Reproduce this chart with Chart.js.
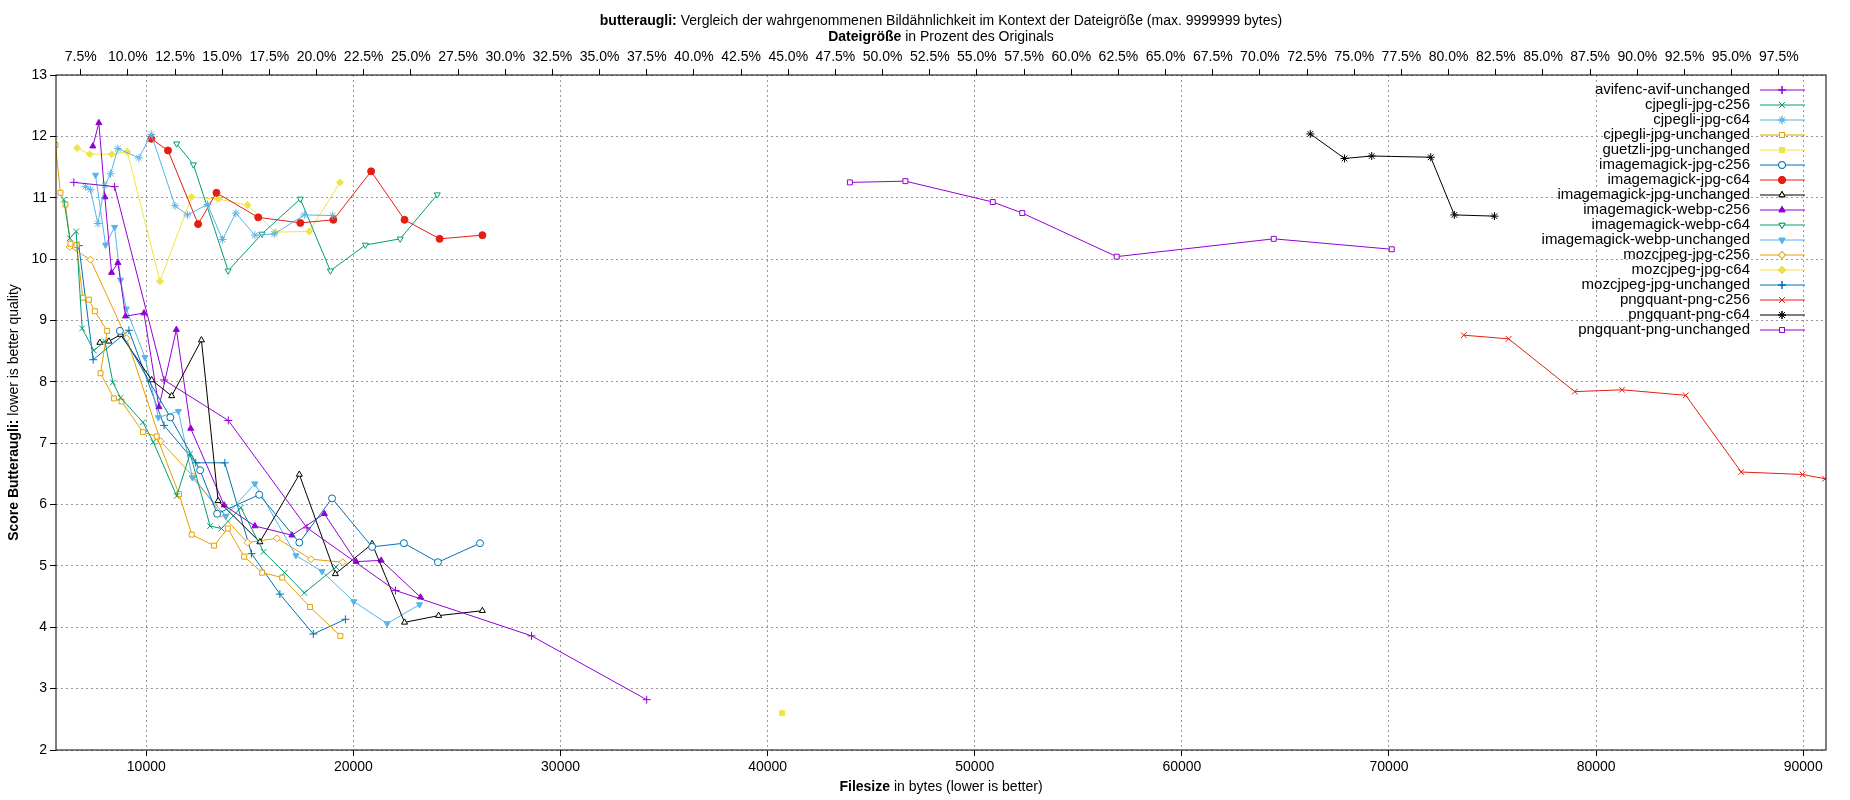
<!DOCTYPE html>
<html>
<head>
<meta charset="utf-8">
<script src="https://cdn.jsdelivr.net/npm/chart.js@4/dist/chart.umd.min.js"></script>
<style>
  body { margin: 0; background: #fff; }
  #box { width: 1850px; height: 800px; }
</style>
</head>
<body>
<div id="box"><canvas id="chart"></canvas></div>
<script>
// Datos: [bytes, score]
const avifUnchanged = [[6500,11.25],[8470,11.18],[10855,8.03],[13960,7.37],[17760,5.62],[22030,4.60],[28600,3.86],[34160,2.82]];
const cjpegliC256 = [[6016,10.97],[6306,10.34],[6613,10.45],[6903,8.87],[7468,8.51],[8000,8.66],[8387,7.99],[8758,7.74],[9839,7.34],[10339,7.02],[11468,6.14],[12113,6.83],[13081,5.65],[13629,5.61],[14565,5.95],[15661,5.23],[16677,4.89],[17629,4.56],[19161,4.98]];
const cjpegliC64 = [[7064,11.18],[7306,11.13],[7661,10.58],[8000,11.20],[8274,11.39],[8629,11.80],[9645,11.65],[10242,12.03],[11387,10.87],[11984,10.72],[12952,10.89],[13678,10.32],[14323,10.75],[15242,10.39],[16178,10.41],[17629,10.72],[19000,10.71]];
const cjpegliUnchanged = [[5613,11.86],[5855,11.08],[6097,10.89],[6339,10.25],[6629,10.23],[6935,9.37],[7226,9.34],[7516,9.15],[8113,8.83],[7790,8.14],[8435,7.73],[8806,7.68],[9839,7.18],[10500,7.11],[11581,6.17],[12194,5.51],[13274,5.33],[13935,5.61],[14725,5.15],[15596,4.89],[16564,4.81],[17903,4.33],[19371,3.86]];
const guetzliUnchanged = [[40700,2.60]];
const imJpgC256 = [[8726,8.83],[11161,7.42],[12597,6.56],[13419,5.85],[15452,6.16],[17388,5.38],[18968,6.10],[20903,5.31],[22436,5.37],[24081,5.06],[26113,5.37]];
const imJpgC64 = [[10242,11.96],[11048,11.77],[12500,10.57],[13387,11.08],[15404,10.68],[17436,10.59],[19032,10.64],[20855,11.43],[22468,10.64],[24161,10.33],[26226,10.39]];
const imJpgUnchanged = [[7758,8.64],[8193,8.66],[8758,8.77],[10258,8.03],[11226,7.77],[12662,8.68],[13468,6.06],[15484,5.39],[17388,6.49],[19129,4.87],[20903,5.36],[22468,4.08],[24113,4.19],[26226,4.27]];
const imWebpC256 = [[7419,11.84],[7710,12.22],[8000,11.01],[8322,9.78],[8629,9.94],[9000,9.07],[9887,9.12],[10613,7.59],[11452,8.85],[12145,7.24],[13758,5.99],[15242,5.65],[17033,5.50],[18597,5.85],[20129,5.07],[21339,5.09],[23242,4.49]];
const imWebpC64 = [[11468,11.88],[12274,11.54],[13952,9.81],[15581,10.41],[17436,10.98],[18887,9.81],[20581,10.23],[22258,10.33],[24048,11.05]];
const imWebpUnchanged = [[7548,11.37],[8032,10.23],[8468,10.52],[8758,9.66],[9032,9.19],[9935,8.40],[10581,7.42],[11548,7.52],[12226,6.44],[13839,5.81],[15242,6.34],[17226,5.17],[18484,4.91],[20016,4.42],[21629,4.06],[23194,4.37]];
const mozC256 = [[6300,10.20],[7306,9.99],[9048,8.71],[10694,7.03],[12258,6.46],[13600,5.85],[14888,5.38],[16306,5.45],[17952,5.11],[19484,5.06]];
const mozC64 = [[6661,11.81],[7274,11.71],[8339,11.71],[9081,11.75],[10661,9.64],[12177,11.01],[13468,10.98],[14887,10.88],[16226,10.44],[17871,10.45],[19355,11.25]];
const mozUnchanged = [[6742,10.22],[7435,8.36],[9161,8.84],[10855,7.29],[12387,6.68],[13790,6.68],[15081,5.20],[16451,4.54],[18064,3.89],[19613,4.13]];
const pngC256 = [[73612,8.76],[75778,8.70],[78970,7.84],[81250,7.87],[84328,7.78],[87007,6.53],[89971,6.49],[91054,6.42]];
const pngC64 = [[66200,12.04],[67855,11.64],[69166,11.68],[72016,11.66],[73156,10.72],[75094,10.70]];
const pngUnchanged = [[43972,11.25],[46651,11.27],[50869,10.93],[52294,10.75],[56854,10.04],[64435,10.33],[70135,10.16]];

const originalSize = 91100; // Tamaño del original (100% del eje superior)
const xMin = 5640, xMax = 91100;
const topTicks = [7.5,10,12.5,15,17.5,20,22.5,25,27.5,30,32.5,35,37.5,40,42.5,45,47.5,50,52.5,55,57.5,60,62.5,65,67.5,70,72.5,75,77.5,80,82.5,85,87.5,90,92.5,95,97.5];

const FONT = 'Liberation Sans, Arial, sans-serif';

function serie(label, data, color, style, filled, rot) {
    return {
        label: label,
        data: data.map(p => ({x: p[0], y: p[1]})),
        borderColor: color,
        backgroundColor: filled ? color : '#ffffff',
        pointStyle: style,
        pointRotation: rot || 0,
        pointRadius: style === 'star' || style === 'cross' || style === 'crossRot' ? 4 : 3.5,
        pointBorderWidth: 1,
        borderWidth: 1,
        showLine: true,
        tension: 0
    };
}

const datasets = [
    serie('avifenc-avif-unchanged', avifUnchanged, '#9400d3', 'cross', false),
    serie('cjpegli-jpg-c256', cjpegliC256, '#009e73', 'crossRot', false),
    serie('cjpegli-jpg-c64', cjpegliC64, '#56b4e9', 'star', false),
    serie('cjpegli-jpg-unchanged', cjpegliUnchanged, '#e69f00', 'rect', false),
    serie('guetzli-jpg-unchanged', guetzliUnchanged, '#f0e442', 'rect', true),
    serie('imagemagick-jpg-c256', imJpgC256, '#0072b2', 'circle', false),
    serie('imagemagick-jpg-c64', imJpgC64, '#e51e10', 'circle', true),
    serie('imagemagick-jpg-unchanged', imJpgUnchanged, '#000000', 'triangle', false),
    serie('imagemagick-webp-c256', imWebpC256, '#9400d3', 'triangle', true),
    serie('imagemagick-webp-c64', imWebpC64, '#009e73', 'triangle', false, 180),
    serie('imagemagick-webp-unchanged', imWebpUnchanged, '#56b4e9', 'triangle', true, 180),
    serie('mozcjpeg-jpg-c256', mozC256, '#e69f00', 'rectRot', false),
    serie('mozcjpeg-jpg-c64', mozC64, '#f0e442', 'rectRot', true),
    serie('mozcjpeg-jpg-unchanged', mozUnchanged, '#0072b2', 'cross', false),
    serie('pngquant-png-c256', pngC256, '#e51e10', 'crossRot', false),
    serie('pngquant-png-c64', pngC64, '#000000', 'star', false),
    serie('pngquant-png-unchanged', pngUnchanged, '#9400d3', 'rect', false)
];

// Texto con partes en negrita
function mixedText(ctx, parts, x, y, align) {
    const widths = parts.map(p => { ctx.font = (p[1] ? 'bold ' : '') + '14px ' + FONT; return ctx.measureText(p[0]).width; });
    const total = widths.reduce((a, b) => a + b, 0);
    let cx = align === 'center' ? x - total / 2 : x;
    ctx.textAlign = 'left';
    parts.forEach((p, i) => {
        ctx.font = (p[1] ? 'bold ' : '') + '14px ' + FONT;
        ctx.fillText(p[0], cx, y);
        cx += widths[i];
    });
}

const decoracion = {
    id: 'decoracion',
    afterDraw(chart) {
        const ctx = chart.ctx;
        const a = chart.chartArea;
        ctx.save();
        ctx.fillStyle = '#000';
        ctx.textBaseline = 'middle';
        const cx = (a.left + a.right) / 2;
        mixedText(ctx, [['butteraugli:', true], [' Vergleich der wahrgenommenen Bildähnlichkeit im Kontext der Dateigröße (max. 9999999 bytes)', false]], cx, 21, 'center');
        mixedText(ctx, [['Dateigröße', true], [' in Prozent des Originals', false]], cx, 37, 'center');
        mixedText(ctx, [['Filesize', true], [' in bytes (lower is better)', false]], cx, 787, 'center');
        ctx.translate(14, (a.top + a.bottom) / 2);
        ctx.rotate(-Math.PI / 2);
        mixedText(ctx, [['Score Butteraugli:', true], [' lower is better quality', false]], 0, 0, 'center');
        ctx.restore();

        // Rahmen
        ctx.save();
        ctx.strokeStyle = '#000';
        ctx.lineWidth = 1;
        ctx.strokeRect(a.left, a.top, a.right - a.left, a.bottom - a.top);

        // Legende
        ctx.font = '15px ' + FONT;
        ctx.textAlign = 'right';
        ctx.textBaseline = 'middle';
        chart.data.datasets.forEach((ds, i) => {
            const y = 90 + i * 15;
            ctx.fillStyle = '#000';
            ctx.fillText(ds.label, 1750, y);
            ctx.strokeStyle = ds.borderColor;
            ctx.beginPath();
            ctx.moveTo(1760, y);
            ctx.lineTo(1805, y);
            ctx.stroke();
            Chart.helpers.drawPoint(ctx, {
                pointStyle: ds.pointStyle, radius: ds.pointRadius, rotation: ds.pointRotation, borderWidth: 1
            }, 1782, y);
            ctx.fillStyle = ds.backgroundColor;
            ctx.fill();
            ctx.stroke();
        });
        ctx.restore();
    }
};

new Chart(document.getElementById('chart').getContext('2d'), {
    type: 'scatter',
    data: { datasets: datasets },
    options: {
        responsive: true,
        maintainAspectRatio: false,
        animation: false,
        layout: { padding: { left: 0, right: 24, top: 0, bottom: 0 } },
        plugins: { legend: { display: false }, tooltip: { enabled: false } },
        scales: {
            x: {
                type: 'linear', position: 'bottom', min: xMin, max: xMax,
                afterBuildTicks: s => { s.ticks = [10000,20000,30000,40000,50000,60000,70000,80000,90000].map(v => ({value: v})); },
                afterFit: s => { s.height = 50; },
                ticks: { color: '#000', font: { family: FONT, size: 14 }, maxRotation: 0, callback: v => String(v) },
                grid: { color: '#999', lineWidth: 1, tickLength: 6, tickColor: '#000', drawTicks: true },
                border: { display: false, dash: [2, 3] }
            },
            x2: {
                type: 'linear', position: 'top', min: xMin / originalSize * 100, max: xMax / originalSize * 100,
                afterBuildTicks: s => { s.ticks = topTicks.map(v => ({value: v})); },
                afterFit: s => { s.height = 75; },
                ticks: { color: '#000', font: { family: FONT, size: 14 }, maxRotation: 0, autoSkip: false, callback: v => v.toFixed(1) + '%' },
                grid: { drawOnChartArea: false, tickLength: 6, tickColor: '#000' },
                border: { display: false }
            },
            y: {
                min: 2, max: 13,
                afterFit: s => { s.width = 56; },
                ticks: { stepSize: 1, color: '#000', font: { family: FONT, size: 14 } },
                grid: { color: '#999', tickLength: 6, tickColor: '#000' },
                border: { display: false, dash: [2, 3] }
            }
        }
    },
    plugins: [decoracion]
});
</script>
</body>
</html>
